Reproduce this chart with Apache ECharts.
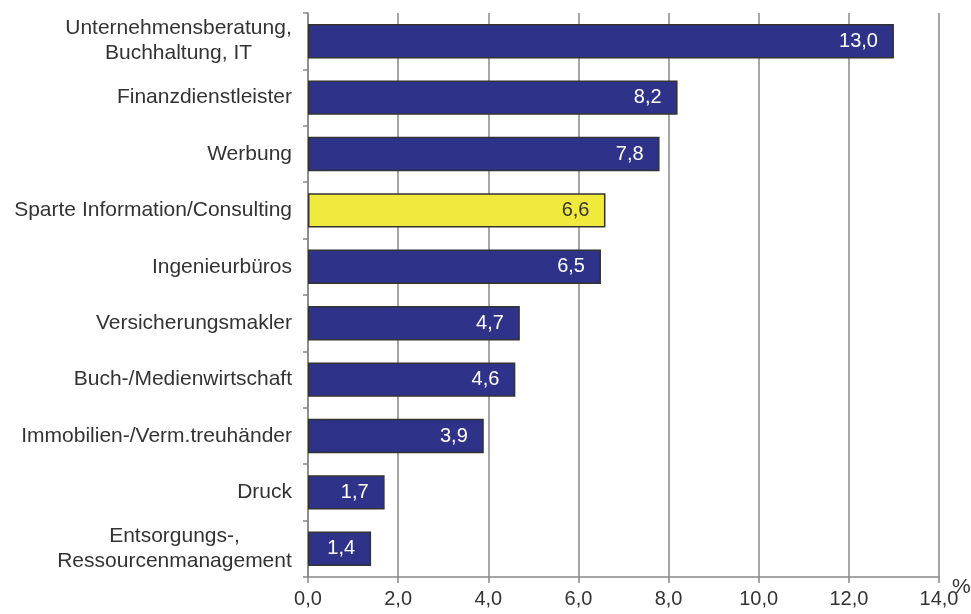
<!DOCTYPE html>
<html><head><meta charset="utf-8">
<script src="https://cdn.jsdelivr.net/npm/echarts@6/dist/echarts.min.js"></script>
<style>html,body{margin:0;padding:0;background:#fff}#c{width:971px;height:614px}</style>
</head><body><div id="c"></div>
<script>
const categories = [
  "Unternehmensberatung,\nBuchhaltung, IT",
  "Finanzdienstleister",
  "Werbung",
  "Sparte Information/Consulting",
  "Ingenieurbüros",
  "Versicherungsmakler",
  "Buch-/Medienwirtschaft",
  "Immobilien-/Verm.treuhänder",
  "Druck",
  "Entsorgungs-,\nRessourcenmanagement"
];
const values = [13.0, 8.2, 7.8, 6.6, 6.5, 4.7, 4.6, 3.9, 1.7, 1.4];
const highlight = "Sparte Information/Consulting";
const xTicks = {min: 0, max: 14, interval: 2};

const FONT = 'Liberation Sans, Arial, sans-serif';
const CAT_SIZE = 21;
const fmt = v => Number(v).toFixed(1).replace('.', ',');

// centre multi-line category labels line by line
const ctx = document.createElement('canvas').getContext('2d');
ctx.font = CAT_SIZE + 'px "Liberation Sans", Arial, sans-serif';
const rich = {};
categories.forEach((c, i) => {
  if (c.indexOf('\n') >= 0) {
    const w = Math.max(...c.split('\n').map(l => ctx.measureText(l).width));
    rich['m' + i] = {width: Math.ceil(w), align: 'center', fontSize: CAT_SIZE, lineHeight: 25, color: '#333', fontFamily: FONT};
  }
});

const chart = echarts.init(document.getElementById('c'));
chart.setOption({
  animation: false,
  textStyle: {fontFamily: FONT},
  grid: {left: 308, right: 32, top: 13, bottom: 37, containLabel: false, outerBoundsMode: 'none'},
  xAxis: {
    type: 'value', min: xTicks.min, max: xTicks.max, interval: xTicks.interval,
    name: '%', nameLocation: 'end', nameGap: 13, nameMoveOverlap: false,
    nameTextStyle: {fontSize: 21, color: '#333', align: 'left', verticalAlign: 'top'},
    axisLine: {show: true, lineStyle: {color: '#888', width: 1.5}},
    axisTick: {show: true, length: 6, lineStyle: {color: '#888', width: 1.5}},
    axisLabel: {formatter: fmt, fontSize: 20, color: '#333', margin: 12},
    splitLine: {show: true, lineStyle: {color: '#888', width: 1.5}}
  },
  yAxis: {
    type: 'category', data: categories, inverse: true,
    axisLine: {show: true, lineStyle: {color: '#888', width: 1.5}},
    axisTick: {show: true, length: 5, lineStyle: {color: '#888', width: 1.5}},
    axisLabel: {
      fontSize: CAT_SIZE, color: '#333', margin: 16, lineHeight: 25, align: 'right',
      formatter: (val) => {
        const i = categories.indexOf(val);
        if (rich['m' + i]) return val.split('\n').map(l => '{m' + i + '|' + l + '}').join('\n');
        return val;
      },
      rich: rich
    },
    splitLine: {show: false}
  },
  series: [{
    type: 'bar',
    barCategoryGap: '39%',
    data: values.map((v, i) => ({
      value: v,
      itemStyle: categories[i] === highlight
        ? {color: '#F0EA3C', borderColor: '#333', borderWidth: 1.5}
        : {color: '#2E3389', borderColor: '#333', borderWidth: 1.5},
      label: {color: categories[i] === highlight ? '#333' : '#fff'}
    })),
    label: {show: true, position: 'insideRight', distance: 16, fontSize: 20, formatter: p => fmt(p.value)}
  }]
});
</script></body></html>
